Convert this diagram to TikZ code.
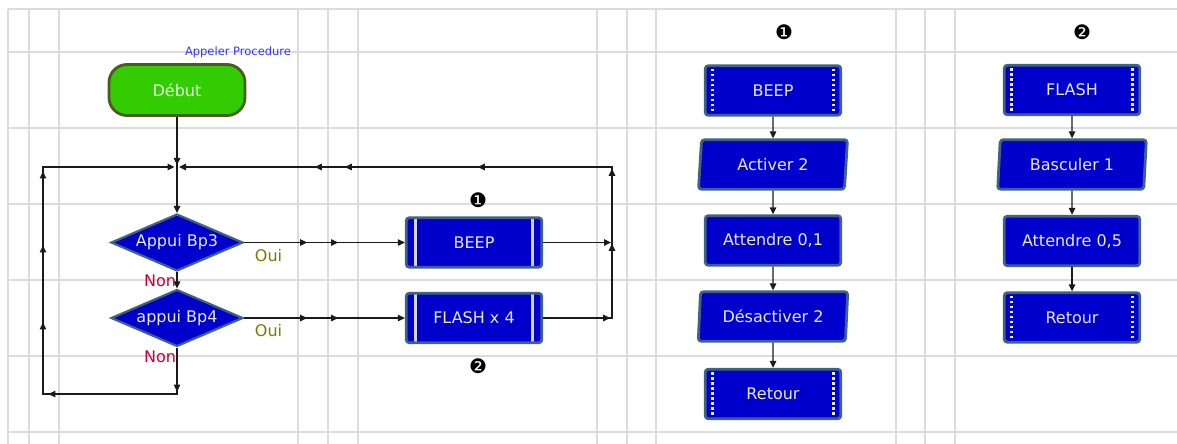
\documentclass[tikz,border=0pt]{standalone}
\usepackage{fontspec}
\setmainfont{DejaVu Sans}
\usetikzlibrary{shapes.geometric, arrows.meta, decorations.markings}
\definecolor{gridgray}{HTML}{DCDCDC}
\definecolor{boxblue}{HTML}{0000CC}
\definecolor{boxedge}{HTML}{3F6286}
\definecolor{boxtext}{HTML}{E8E8FF}
\definecolor{barcol}{HTML}{D4D4E4}
\definecolor{startgreen}{HTML}{33CC00}
\definecolor{startedge}{HTML}{4E5A22}
\definecolor{appelcol}{HTML}{3333FF}
\definecolor{ouicol}{HTML}{7A7A00}
\definecolor{noncol}{HTML}{C8003C}
\definecolor{linecol}{HTML}{1A1A1A}
\tikzset{ctip/.tip={Triangle[length=7pt,width=6.5pt]}}
\begin{document}
\begin{tikzpicture}[x=1pt, y=-1pt,
  gridline/.style={draw=gridgray, line width=1.4pt},
  boxfont/.style={font=\fontsize{16}{18}\selectfont},
  blk/.style={rectangle, rounded corners=3pt, fill=boxblue, draw=boxedge, line width=2.8pt,
    text=boxtext, boxfont, minimum width=135.5pt, minimum height=49.5pt, inner sep=0pt},
  barsolid/.style={path picture={
    \draw[draw=barcol, line width=2.8pt] ([xshift=9.5pt]path picture bounding box.north west) -- ([xshift=9.5pt]path picture bounding box.south west);
    \draw[draw=barcol, line width=2.8pt] ([xshift=-9.5pt]path picture bounding box.north east) -- ([xshift=-9.5pt]path picture bounding box.south east);}},
  bardot/.style={path picture={
    \draw[draw=white!92!blue, line width=3pt, dash pattern=on 2.6pt off 2.4pt] ([xshift=7.5pt,yshift=-3pt]path picture bounding box.north west) -- ([xshift=7.5pt,yshift=3pt]path picture bounding box.south west);
    \draw[draw=white!92!blue, line width=3pt, dash pattern=on 2.6pt off 2.4pt] ([xshift=-7.5pt,yshift=-3pt]path picture bounding box.north east) -- ([xshift=-7.5pt,yshift=3pt]path picture bounding box.south east);}},
  para/.style={trapezium, trapezium left angle=83, trapezium right angle=97, trapezium stretches=true,
    rounded corners=3pt, fill=boxblue, draw=boxedge, line width=2.8pt, text=boxtext, boxfont,
    minimum width=149.5pt, minimum height=49.5pt, inner sep=0pt},
  dia/.style={diamond, aspect=2.3, fill=boxblue, draw=boxedge, line width=2.2pt, text=boxtext, boxfont,
    minimum width=132pt, minimum height=57pt, inner sep=0pt},
  startbox/.style={rectangle, rounded corners=18pt, fill=startgreen, draw=startedge, line width=2.8pt,
    text=white!88!green, boxfont, minimum width=136pt, minimum height=51pt, inner sep=0pt},
  conn/.style={draw=linecol, line width=1.3pt},
  tipend/.style={-ctip},
  lblfont/.style={font=\fontsize{16}{18}\selectfont, inner sep=0pt},
  numfont/.style={font=\fontsize{20}{22}\selectfont, inner sep=0pt, text=black}
]
\useasboundingbox (0,0) rectangle (1177,444);
% grid
\foreach \y in {9,52,128,204,280,356,432} \draw[gridline] (8,\y) -- (1177,\y);
\foreach \x in {8,29,59,298,328,358,597,627,656,896,925,955} \draw[gridline] (\x,9) -- (\x,444);

% main program
\node[startbox] (debut) at (177,90) {Début};
\node[dia] (d1) at (177,242.5) {Appui Bp3};
\node[dia] (d2) at (177,318) {appui Bp4};
\node[blk, barsolid] (beepL) at (474,242.5) {BEEP};
\node[blk, barsolid] (flashL) at (474,318) {FLASH x 4};

% procedure 1
\node[blk, bardot] (beepR) at (773,90.5) {BEEP};
\node[para] (act) at (773,164.5) {Activer 2};
\node[blk] (att1) at (773,240.5) {Attendre 0,1};
\node[para] (desact) at (773,316.5) {Désactiver 2};
\node[blk, bardot] (ret1) at (773,394) {Retour};

% procedure 2
\node[blk, bardot] (flashR) at (1072,90) {FLASH};
\node[para] (basc) at (1072,164.5) {Basculer 1};
\node[blk] (att2) at (1072,241) {Attendre 0,5};
\node[blk, bardot] (ret2) at (1072,317.5) {Retour};

% labels
\node[inner sep=0pt, text=appelcol, font=\fontsize{11.5}{13}\selectfont] (appel) at (238,52) {Appeler Procedure};
\node[lblfont, text=ouicol] (oui1) at (268.5,256) {Oui};
\node[lblfont, text=ouicol] (oui2) at (268.5,331) {Oui};
\node[lblfont, text=noncol] (non1) at (160,281) {Non};
\node[lblfont, text=noncol] (non2) at (160,357) {Non};
\node[numfont] (n1a) at (478,200) {❶};
\node[numfont] (n2a) at (478,366) {❷};
\node[numfont] (n1b) at (784,32) {❶};
\node[numfont] (n2b) at (1082,32) {❷};

% coordinates
\coordinate (jn) at (177,167);
\coordinate (bl) at (177,394);
\coordinate (bll) at (43,394);
\coordinate (tl) at (43,167);
\coordinate (cr1) at (612,242.5);
\coordinate (cr2) at (612,318);
\coordinate (crt) at (612,167);

% connectors main
\draw[conn, tipend, postaction=decorate, decoration={markings, mark=at position 48pt with {\arrow{ctip}}}] (debut.south) -- (d1.north);
\draw[conn, tipend] (d1.south) -- (d2.north);
\draw[conn, tipend, postaction=decorate, decoration={markings,
   mark=at position 63pt with {\arrow{ctip}}, mark=at position 94pt with {\arrow{ctip}}}] (d1.east) -- (beepL.west);
\draw[conn, tipend, postaction=decorate, decoration={markings,
   mark=at position 63pt with {\arrow{ctip}}, mark=at position 94pt with {\arrow{ctip}}}] (d2.east) -- (flashL.west);
\draw[conn, tipend, shorten >=1pt] (beepL.east) -- (cr1);
\draw[conn, tipend, shorten >=2pt, postaction=decorate, decoration={markings,
   mark=at position 67pt with {\arrow{ctip}},
   mark=at position 143pt with {\arrow{ctip}},
   mark=at position 218pt with {\arrow{ctip}},
   mark=at position 354pt with {\arrow{ctip}},
   mark=at position 487pt with {\arrow{ctip}},
   mark=at position 517pt with {\arrow{ctip}}}] (flashL.east) -- (cr2) -- (crt) -- (jn);
\draw[conn, tipend, shorten >=2.5pt, postaction=decorate, decoration={markings,
   mark=at position 44pt with {\arrow{ctip}},
   mark=at position 175pt with {\arrow{ctip}},
   mark=at position 252pt with {\arrow{ctip}},
   mark=at position 329pt with {\arrow{ctip}},
   mark=at position 403pt with {\arrow{ctip}}}] (d2.south) -- (bl) -- (bll) -- (tl) -- (jn);

% connectors procedures
\draw[conn, tipend] (beepR.south) -- (act.north);
\draw[conn, tipend] (act.south) -- (att1.north);
\draw[conn, tipend] (att1.south) -- (desact.north);
\draw[conn, tipend] (desact.south) -- (ret1.north);
\draw[conn, tipend] (flashR.south) -- (basc.north);
\draw[conn, tipend] (basc.south) -- (att2.north);
\draw[conn, tipend] (att2.south) -- (ret2.north);
\end{tikzpicture}
\end{document}
